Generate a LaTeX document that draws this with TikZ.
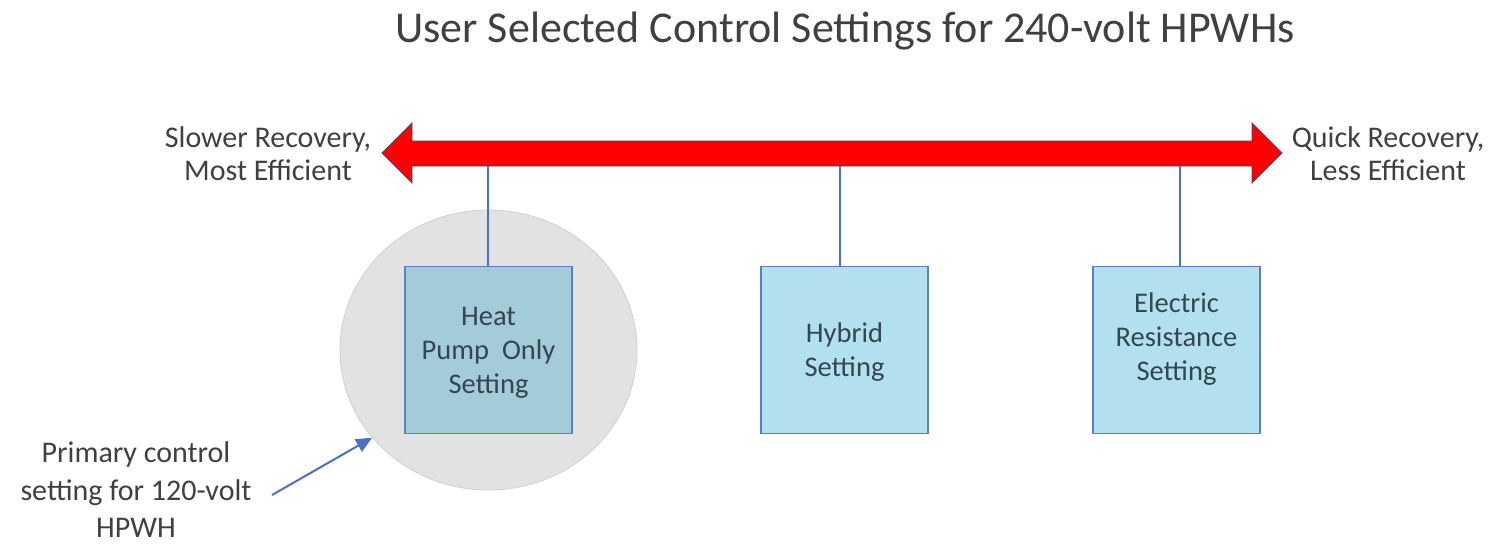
\documentclass[tikz,border=0pt]{standalone}
\usepackage{fontspec}
\setmainfont{Carlito}
\usetikzlibrary{arrows.meta,shapes.geometric}
\definecolor{labelgray}{HTML}{404040}
\definecolor{boxtext}{HTML}{33474F}
\definecolor{linkblue}{HTML}{4A72C0}
\definecolor{arrowred}{HTML}{FF0000}
\definecolor{arrowedge}{HTML}{3A4A78}
\definecolor{boxfill}{HTML}{B3E0EE}
\definecolor{boxfilldark}{HTML}{A3CBD8}
\definecolor{boxedge}{HTML}{5E80BE}
\definecolor{ringfill}{HTML}{E2E2E2}
\definecolor{ringedge}{HTML}{D0D0D0}
\tikzset{
  side/.style={text=labelgray, font=\fontsize{30}{33}\selectfont, align=center},
  setting/.style={draw=boxedge, line width=1.5pt, fill=boxfill, minimum width=167pt,
    minimum height=167pt, inner sep=0pt},
  settingtext/.style={text=boxtext, align=center, inner sep=0pt,
    font=\fontsize{28.5}{34}\selectfont},
  link/.style={draw=linkblue, line width=1.7pt},
}
\begin{document}
\begin{tikzpicture}[x=1pt, y=-1pt]
\useasboundingbox (0,0) rectangle (1501,544);
\fill[white] (0,0) rectangle (1501,544);

% title
\node[text=labelgray, font=\fontsize{44}{50}\selectfont] (title) at (845,31)
  {User Selected Control Settings for 240-volt HPWHs};

% red double-headed scale arrow
\fill[arrowred, draw=arrowedge, line width=0.8pt]
  (382,153) -- (412,123) -- (412,141) -- (1252,141) -- (1252,123) -- (1282,153)
  -- (1252,183) -- (1252,166) -- (412,166) -- (412,183) -- cycle;
\coordinate (s1) at (488,166);
\coordinate (s2) at (840,166);
\coordinate (s3) at (1180,166);

\node[side] (left) at (268,154) {Slower Recovery,\\Most Efficient};
\node[side] (right) at (1388,154) {Quick Recovery,\\Less Efficient};

% highlight ring around the primary setting
\node[ellipse, fill=ringfill, draw=ringedge, line width=0.8pt, minimum width=297pt,
  minimum height=280pt, inner sep=0pt] (ring) at (488.5,350) {};

% setting boxes and their captions
\node[setting, fill=boxfilldark] (hp) at (488.5,350) {};
\node[setting] (hy) at (844.5,350) {};
\node[setting] (er) at (1176.5,350) {};
\node[settingtext] (hpt) at (488.5,353) {Heat\\Pump\ \ Only\\Setting};
\node[settingtext] (hyt) at (844.5,352) {Hybrid\\Setting};
\node[settingtext] (ert) at (1176.5,339) {Electric\\Resistance\\Setting};

\draw[link] (s1) -- (s1 |- hp.north);
\draw[link] (s2) -- (s2 |- hy.north);
\draw[link] (s3) -- (s3 |- er.north);

% note on the 120-volt unit
\node[side, font=\fontsize{30}{37.5}\selectfont] (note) at (136,490)
  {Primary control\\setting for 120-volt\\HPWH};
\coordinate (nstart) at (272,495);
\draw[link, line width=2pt, -{Triangle[length=16pt, width=14pt]}] (nstart) -- (ring.217);
\end{tikzpicture}
\end{document}
